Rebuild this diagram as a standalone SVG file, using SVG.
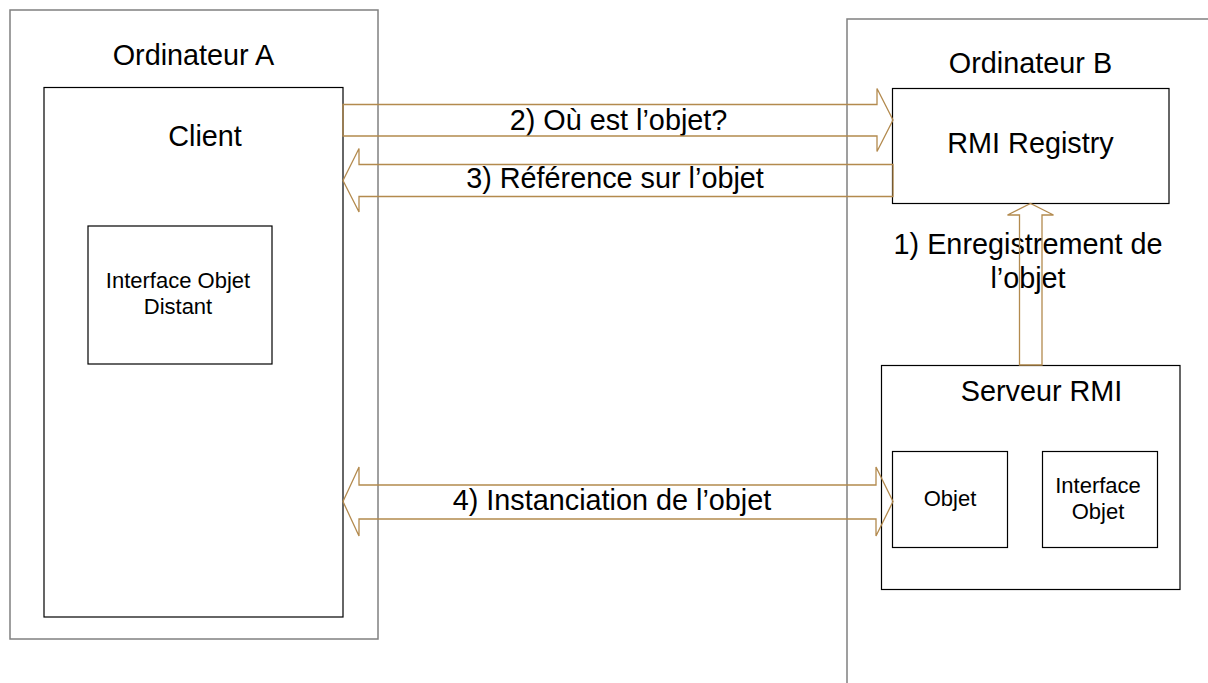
<svg xmlns="http://www.w3.org/2000/svg" width="1208" height="683" viewBox="0 0 1208 683">
<style>
.outer{fill:none;stroke:#808080;stroke-width:1.5}
.inner{fill:none;stroke:#000;stroke-width:1.2}
.conn{fill:none;stroke:#B38A4E;stroke-width:1.3;stroke-linejoin:miter}
text{font-family:"Liberation Sans",Arial,sans-serif;fill:#000;text-anchor:middle}
.big{font-size:28.8px}
.small{font-size:22px}
</style>
<rect x="0" y="0" width="1208" height="683" fill="#fff"/>
<g id="ordinateur-a">
<rect class="outer" x="10" y="10" width="368" height="629"/>
<text class="big" x="193.5" y="65">Ordinateur A</text>
</g>
<g id="ordinateur-b">
<polyline class="outer" points="847,690 847,19 1215,19"/>
<text class="big" x="1030.5" y="73">Ordinateur B</text>
</g>
<g id="client">
<rect class="inner" x="44" y="87.5" width="299" height="529.5"/>
<text class="big" x="205" y="146">Client</text>
</g>
<g id="interface-objet-distant">
<rect class="inner" x="88" y="226" width="184" height="138"/>
<text class="small" x="178" y="288">Interface Objet</text>
<text class="small" x="178" y="314">Distant</text>
</g>
<g id="rmi-registry">
<rect class="inner" x="892.5" y="88.5" width="276.5" height="115"/>
<text class="big" x="1030.5" y="153">RMI Registry</text>
</g>
<g id="serveur-rmi">
<rect class="inner" x="881.5" y="365.5" width="298.5" height="224"/>
<text class="big" x="1041.5" y="401">Serveur RMI</text>
</g>
<g id="objet">
<rect class="inner" x="892.5" y="451.5" width="115" height="96"/>
<text class="small" x="950" y="506">Objet</text>
</g>
<g id="interface-objet">
<rect class="inner" x="1042.5" y="451.5" width="115" height="96"/>
<text class="small" x="1098" y="493">Interface</text>
<text class="small" x="1098" y="519">Objet</text>
</g>
<g id="labels">
<text class="big" x="618.5" y="130">2) Où est l’objet?</text>
<text class="big" x="615" y="188">3) Référence sur l’objet</text>
<text class="big" x="1028" y="254">1) Enregistrement de</text>
<text class="big" x="1028" y="288">l’objet</text>
<text class="big" x="612" y="510">4) Instanciation de l’objet</text>
</g>
<g id="connectors">
<polygon class="conn" points="343,104.5 877,104.5 877,88.5 893,120 877,151.5 877,136 343,136"/>
<polygon class="conn" points="893,164.5 359,164.5 359,148.5 343,180.5 359,212 359,196.5 893,196.5"/>
<polygon class="conn" points="1019.5,365 1019.5,215 1007.5,215 1030.5,203.5 1053.5,215 1042,215 1042,365"/>
<polygon class="conn" points="343,501.5 359,467 359,485 876,485 876,467 893,501.5 876,536 876,519 359,519 359,536"/>
</g>
</svg>
